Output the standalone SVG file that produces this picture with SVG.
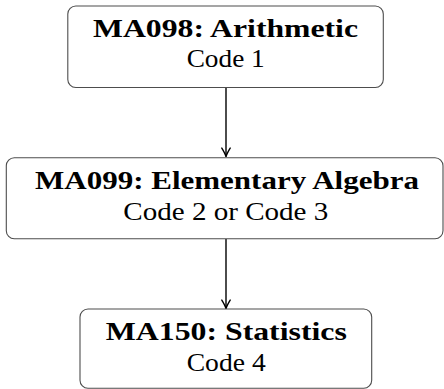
<svg xmlns="http://www.w3.org/2000/svg" width="444" height="389" viewBox="0 0 444 389">
<style>
.box{fill:#fff;stroke:#4d4d4d;stroke-width:1.1}
.t{font-family:'Liberation Serif','DejaVu Serif',serif;font-size:24.5px;font-weight:bold;fill:#000;text-anchor:middle}
.c{font-family:'Liberation Serif','DejaVu Serif',serif;font-size:24.5px;fill:#000;text-anchor:middle}
.edge{stroke:#000;stroke-width:1.4;fill:none}
</style>
<defs>
<marker id="ah" markerUnits="userSpaceOnUse" viewBox="-10 -6 12 12" refX="0" refY="0" markerWidth="12" markerHeight="12" orient="auto">
<path d="M-8.5,-4.2 Q-3,-0.8 0,0 Q-3,0.8 -8.5,4.2" fill="none" stroke="#000" stroke-width="1.4" stroke-linecap="round" stroke-linejoin="round"/>
</marker>
</defs>
<g id="connectors">
<path class="edge" d="M226,88 L226,156.6" marker-end="url(#ah)"/>
<path class="edge" d="M226,239 L226,308.6" marker-end="url(#ah)"/>
</g>
<g id="ma098">
<rect class="box" x="67.8" y="6" width="315.5" height="81.5" rx="8"/>
<text class="t" x="225.5" y="36.7" textLength="265" lengthAdjust="spacingAndGlyphs">MA098: Arithmetic</text>
<text class="c" x="225.7" y="66.7" textLength="78" lengthAdjust="spacingAndGlyphs">Code 1</text>
</g>
<g id="ma099">
<rect class="box" x="6.3" y="157.7" width="436.7" height="81" rx="8"/>
<text class="t" x="227" y="189.3" textLength="384" lengthAdjust="spacingAndGlyphs">MA099: Elementary Algebra</text>
<text class="c" x="225.8" y="219.8" textLength="205" lengthAdjust="spacingAndGlyphs">Code 2 or Code 3</text>
</g>
<g id="ma150">
<rect class="box" x="80" y="309" width="291.7" height="79.3" rx="8"/>
<text class="t" x="226.3" y="340.3" textLength="241" lengthAdjust="spacingAndGlyphs">MA150: Statistics</text>
<text class="c" x="226.2" y="370.5" textLength="79" lengthAdjust="spacingAndGlyphs">Code 4</text>
</g>
</svg>
